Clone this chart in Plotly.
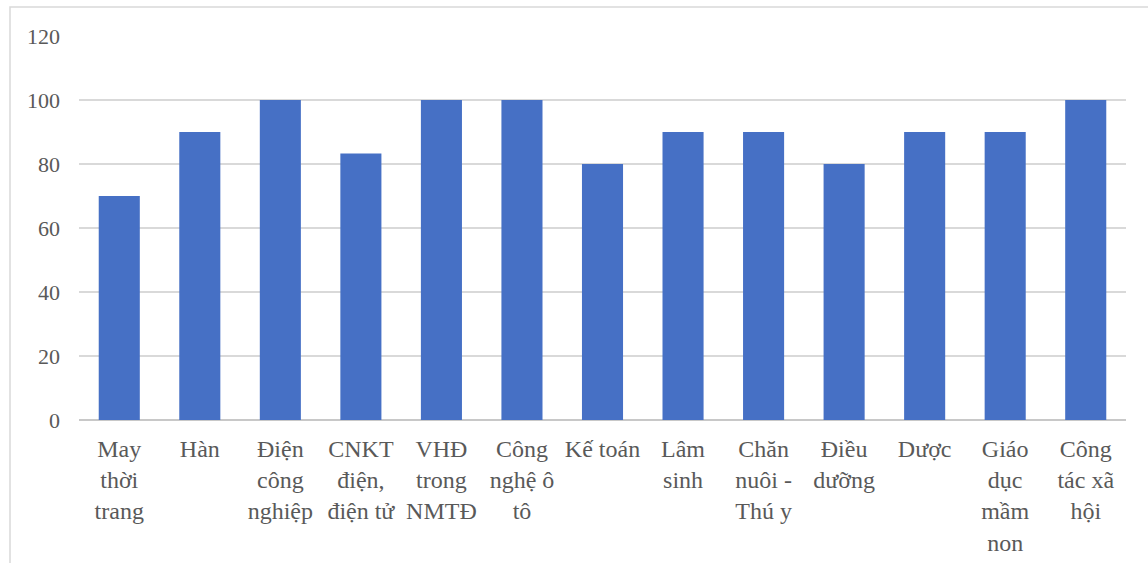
import plotly.graph_objects as go

# Ngành đào tạo (nhãn trục hoành, ngắt dòng như trong biểu đồ)
categories = [
    "May<br>thời<br>trang",
    "Hàn",
    "Điện<br>công<br>nghiệp",
    "CNKT<br>điện,<br>điện tử",
    "VHĐ<br>trong<br>NMTĐ",
    "Công<br>nghệ ô<br>tô",
    "Kế toán",
    "Lâm<br>sinh",
    "Chăn<br>nuôi -<br>Thú y",
    "Điều<br>dưỡng",
    "Dược",
    "Giáo<br>dục<br>mầm<br>non",
    "Công<br>tác xã<br>hội",
]
values = [70, 90, 100, 83.3, 100, 100, 80, 90, 90, 80, 90, 90, 100]
y_ticks = [0, 20, 40, 60, 80, 100, 120]

W, H = 1148, 563
ML, MR, MT, MB = 79, 22, 36, 143
plot_w = W - ML - MR
plot_h = H - MT - MB

fig = go.Figure(
    go.Bar(
        x=categories,
        y=values,
        marker=dict(color="#4670c5", line=dict(width=0)),
        width=0.51,
        hoverinfo="x+y",
    )
)

serif = "Liberation Serif"
x_font = dict(family=serif, size=24, color="#595959")
y_font = dict(family=serif, size=22, color="#595959")

fig.update_layout(
    width=W,
    height=H,
    margin=dict(l=ML, r=MR, t=MT, b=MB, autoexpand=False),
    paper_bgcolor="white",
    plot_bgcolor="white",
    showlegend=False,
    font=dict(family=serif),
    xaxis=dict(
        tickfont=x_font,
        showgrid=False,
        showline=False,
        zeroline=False,
        ticks="",
        tickangle=0,
        ticklabelstandoff=12,
    ),
    yaxis=dict(
        range=[0, 120],
        tickvals=y_ticks,
        tickfont=y_font,
        showgrid=True,
        gridcolor="#d9d9d9",
        gridwidth=1.5,
        zeroline=True,
        zerolinecolor="#c8c8c8",
        zerolinewidth=2,
        showline=False,
        ticks="",
        ticklabelstandoff=18,
    ),
    shapes=[
        # outer chart frame
        dict(
            type="rect",
            xref="paper",
            yref="paper",
            x0=(10 - ML) / plot_w,
            x1=(1160 - ML) / plot_w,
            y0=-(575 - MT - plot_h) / plot_h,
            y1=1 + (MT - 7) / plot_h,
            line=dict(color="#d9d9d9", width=1.5),
            fillcolor="rgba(0,0,0,0)",
            layer="below",
        )
    ],
)

fig.write_html("out.html")
